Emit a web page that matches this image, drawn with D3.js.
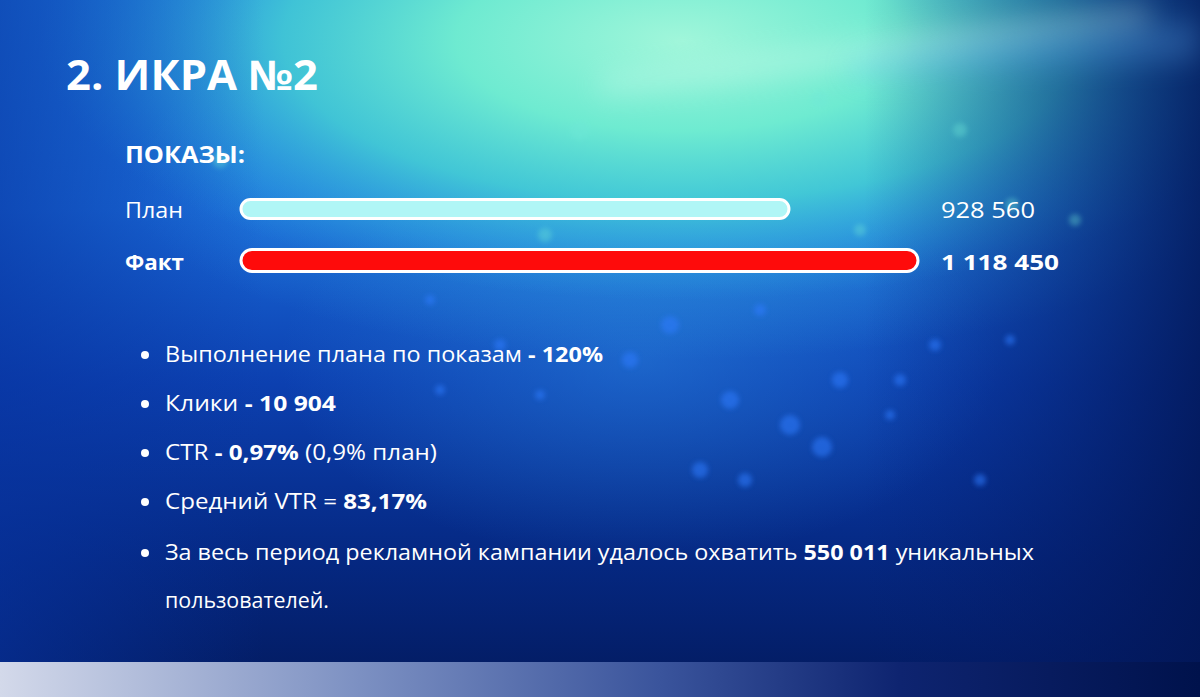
<!DOCTYPE html>
<html><head><meta charset="utf-8">
<script src="https://cdn.jsdelivr.net/npm/d3@7"></script>
<style>html,body{margin:0;padding:0;background:#0a2a80;overflow:hidden}svg{display:block}</style>
</head><body>
<script>
// ---- data ----
const title = "2. ИКРА №2";
const sectionTitle = "ПОКАЗЫ:";
const categories = ["План", "Факт"];
const values = [928560, 1118450];
const valueLabels = ["928 560", "1 118 450"];
const bullets = [
  [["Выполнение плана по показам ", false], ["- 120%", true]],
  [["Клики ", false], ["- 10 904", true]],
  [["CTR ", false], ["- 0,97%", true], [" (0,9% план)", false]],
  [["Средний VTR = ", false], ["83,17%", true]],
  [["За весь период рекламной кампании удалось охватить ", false], ["550 011", true], [" уникальных", false]]
];
const bulletContinuation = "пользователей.";

// ---- drawing ----
const W = 1200, H = 697;
const FONT = "'Open Sans', 'Noto Sans', sans-serif";
const svg = d3.select("body").append("svg").attr("width", W).attr("height", H);
const defs = svg.append("defs");

function lin(id, x1, y1, x2, y2, stops) {
  const g = defs.append("linearGradient").attr("id", id)
    .attr("x1", x1).attr("y1", y1).attr("x2", x2).attr("y2", y2);
  stops.forEach(s => g.append("stop").attr("offset", s[0]).attr("stop-color", s[1]).attr("stop-opacity", s[2] == null ? 1 : s[2]));
}
function rad(id, stops) {
  const g = defs.append("radialGradient").attr("id", id).attr("cx", 0.5).attr("cy", 0.5).attr("r", 0.5);
  stops.forEach(s => g.append("stop").attr("offset", s[0]).attr("stop-color", s[1]).attr("stop-opacity", s[2] == null ? 1 : s[2]));
}
lin("bgV", 0, 0, 0, 1, [[0, "#1e78e0"], [0.3, "#1a6ad8"], [0.55, "#0c40b0"], [0.8, "#052882"], [1, "#031a5e"]]);
lin("bgL", 0, 0, 1, 0, [[0, "#0733a0", 0.6], [0.22, "#0733a0", 0], [0.72, "#041d70", 0], [1, "#021656", 0.85]]);
rad("glow", [[0, "#a0f6da", 1], [0.35, "#72f0d0", 0.95], [0.62, "#48d6d4", 0.8], [0.85, "#35b4e0", 0.35], [1, "#2aa0e0", 0]]);
rad("glow2", [[0, "#2f8ee6", 0.45], [1, "#2f8ee6", 0]]);
rad("glow3", [[0, "#38aee6", 0.65], [1, "#38aee6", 0]]);
lin("strip", 0, 0, 1, 0, [[0, "#d3d9ea"], [0.3, "#7c90c2"], [0.55, "#3a549c"], [0.75, "#0e2470"], [1, "#00124c"]]);
defs.append("filter").attr("id", "blur").attr("x", "-50%").attr("y", "-50%").attr("width", "200%").attr("height", "200%")
  .append("feGaussianBlur").attr("stdDeviation", 2.5);
defs.append("filter").attr("id", "blurBig").attr("x", "-50%").attr("y", "-50%").attr("width", "200%").attr("height", "200%")
  .append("feGaussianBlur").attr("stdDeviation", 14);

const bg = svg.append("g");
bg.append("rect").attr("width", W).attr("height", H).attr("fill", "url(#bgV)");
bg.append("ellipse").attr("cx", 640).attr("cy", 360).attr("rx", 360).attr("ry", 200).attr("fill", "url(#glow2)");
bg.append("ellipse").attr("cx", 680).attr("cy", 180).attr("rx", 560).attr("ry", 180).attr("fill", "url(#glow3)");
bg.append("ellipse").attr("cx", 680).attr("cy", 40).attr("rx", 640).attr("ry", 260).attr("fill", "url(#glow)");
bg.append("rect").attr("width", W).attr("height", H).attr("fill", "url(#bgL)");
// light rays
bg.append("path").attr("d", "M 600 75 Q 850 40 1150 5 L 1150 25 Q 850 70 600 95 Z")
  .attr("fill", "#e0fff2").attr("opacity", 0.3).attr("filter", "url(#blurBig)");
bg.append("path").attr("d", "M 850 60 Q 1000 30 1200 20 L 1200 60 Q 1000 70 850 80 Z")
  .attr("fill", "#6ab8ff").attr("opacity", 0.25).attr("filter", "url(#blurBig)");
// bokeh (decoration)
const bokeh = [[220,160,8],[270,210,6],[580,130,10],[545,235,7],[820,100,9],[960,130,7],[1012,205,7],[1075,220,6],[670,325,9],[630,360,8],[760,310,6],[730,400,9],[790,425,10],[840,380,8],[700,470,8],[745,480,7],[822,447,10],[900,380,6],[890,415,5],[935,345,6],[980,480,6],[1010,340,5],[500,345,6],[540,395,5],[440,390,5],[860,230,6],[430,300,5]];
bg.selectAll("circle.b").data(bokeh).join("circle").attr("class", "b")
  .attr("cx", d => d[0]).attr("cy", d => d[1]).attr("r", d => d[2])
  .attr("fill", (d, i) => d[1] < 300 ? "#6fe8d8" : "#2d7cff").attr("opacity", (d) => d[1] < 300 ? 0.35 : 0.55)
  .attr("filter", "url(#blur)");
// bottom strip
svg.append("rect").attr("x", 0).attr("y", 662).attr("width", W).attr("height", H - 662).attr("fill", "url(#strip)");

// title
svg.append("text").attr("x", 66).attr("y", 90).text(title)
  .attr("font-family", FONT).attr("font-weight", 700).attr("font-size", 41).attr("fill", "#fff")
  .attr("textLength", 252).attr("lengthAdjust", "spacingAndGlyphs");
svg.append("text").attr("x", 125).attr("y", 163).text(sectionTitle)
  .attr("font-family", FONT).attr("font-weight", 700).attr("font-size", 24).attr("fill", "#fff")
  .attr("textLength", 120).attr("lengthAdjust", "spacingAndGlyphs");

// bars
const x = d3.scaleLinear().domain([0, d3.max(values)]).range([158, 918]);
const y = d3.scaleBand().domain(categories).range([183.25, 286.25]).padding(0);
const cy = d => y(d) + y.bandwidth() / 2;
const barStart = 241;
const barColors = ["#b0f6f6", "#fe0b0b"];
const barH = [19, 22];
const rows = svg.append("g").selectAll("g").data(categories).join("g");
rows.append("rect")
  .attr("x", barStart)
  .attr("y", (d, i) => cy(d) - barH[i] / 2)
  .attr("width", (d, i) => x(values[i]) - barStart)
  .attr("height", (d, i) => barH[i])
  .attr("rx", (d, i) => barH[i] / 2)
  .attr("fill", (d, i) => barColors[i])
  .attr("stroke", "#fff").attr("stroke-width", 3);
rows.append("text").attr("x", 125)
  .attr("y", (d, i) => cy(d) + 9)
  .text(d => d)
  .attr("font-family", FONT).attr("font-size", 22).attr("fill", "#fff")
  .attr("font-weight", (d, i) => i ? 700 : 400)
  .attr("textLength", (d, i) => i ? 59 : 58).attr("lengthAdjust", "spacingAndGlyphs");
rows.append("text").attr("x", 941)
  .attr("y", (d, i) => cy(d) + 9)
  .text((d, i) => valueLabels[i])
  .attr("font-family", FONT).attr("font-size", 22).attr("fill", "#fff")
  .attr("font-weight", (d, i) => i ? 700 : 400)
  .attr("textLength", (d, i) => i ? 118 : 94).attr("lengthAdjust", "spacingAndGlyphs");

// bullets
const bulletY = [362, 411, 460, 509, 560];
const bulletW = [438, 171, 272, 262, 869];
const bl = svg.append("g").selectAll("g").data(bullets).join("g");
bl.append("circle").attr("cx", 145).attr("cy", (d, i) => bulletY[i] - 7).attr("r", 4).attr("fill", "#fff");
const bt = bl.append("text").attr("x", 165).attr("y", (d, i) => bulletY[i])
  .attr("font-family", FONT).attr("font-size", 21).attr("font-weight", 500).attr("fill", "#fff")
  .attr("textLength", (d, i) => bulletW[i]).attr("lengthAdjust", "spacingAndGlyphs");
bt.selectAll("tspan").data(d => d).join("tspan")
  .text(d => d[0]).attr("font-weight", d => d[1] ? 700 : 500);
svg.append("text").attr("x", 165).attr("y", 608).text(bulletContinuation)
  .attr("font-family", FONT).attr("font-size", 21).attr("font-weight", 500).attr("fill", "#fff")
  .attr("textLength", 164).attr("lengthAdjust", "spacingAndGlyphs");
</script>
</body></html>
